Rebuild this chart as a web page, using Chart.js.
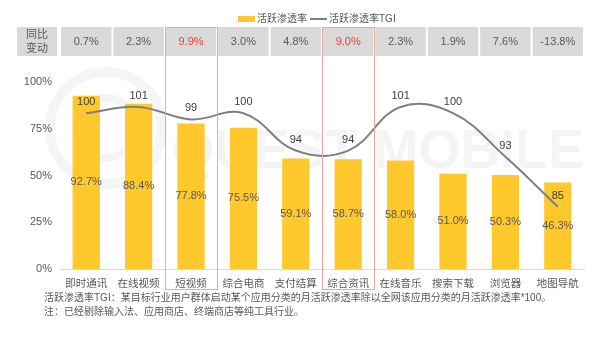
<!DOCTYPE html>
<html>
<head>
<meta charset="utf-8">
<script src="https://cdn.jsdelivr.net/npm/chart.js@4/dist/chart.umd.min.js"></script>
<style>
    html, body { margin: 0; padding: 0; background: #fff; }
    #wrap { width: 600px; height: 344px; position: relative; }
</style>
</head>
<body>
<div id="wrap"><canvas id="chart"></canvas></div>
<script>
// Dados do gráfico
const categories = ['即时通讯', '在线视频', '短视频', '综合电商', '支付结算', '综合资讯', '在线音乐', '搜索下载', '浏览器', '地图导航'];
const penetration = [92.7, 88.4, 77.8, 75.5, 59.1, 58.7, 58.0, 51.0, 50.3, 46.3];
const tgi = [100, 101, 99, 100, 94, 94, 101, 100, 93, 85];
const yoyChange = ['0.7%', '2.3%', '9.9%', '3.0%', '4.8%', '9.0%', '2.3%', '1.9%', '7.6%', '-13.8%'];
const highlighted = [2, 5];
const yTicks = [0, 25, 50, 75, 100];
const notes = [
    '活跃渗透率TGI：某目标行业用户群体启动某个应用分类的月活跃渗透率除以全网该应用分类的月活跃渗透率*100。',
    '注：已经剔除输入法、应用商店、终端商店等纯工具行业。'
];

const FONT = "'Liberation Sans', 'Noto Sans CJK SC', sans-serif";
const BAR_COLOR = '#FFC82C';
const LINE_COLOR = '#7F7F7F';
const TEXT_COLOR = '#595959';

// Plugin para marca d'água, rótulos, tabela, legenda e notas
const decorations = {
    id: 'decorations',
    beforeDatasetsDraw(chart) {
        const ctx = chart.ctx;
        ctx.save();
        // marca d'água bem clara
        ctx.strokeStyle = 'rgba(0, 0, 0, 0.04)';
        ctx.lineWidth = 10;
        ctx.beginPath();
        ctx.arc(106, 128, 56, 0, Math.PI * 2);
        ctx.stroke();
        ctx.lineWidth = 8;
        ctx.beginPath();
        ctx.arc(106, 128, 30, 0, Math.PI * 2);
        ctx.stroke();
        ctx.fillStyle = 'rgba(0, 0, 0, 0.045)';
        ctx.font = 'bold 56px ' + FONT;
        ctx.textAlign = 'left';
        ctx.textBaseline = 'alphabetic';
        ctx.fillText('QUEST MOBILE', 172, 168, 412);
        ctx.restore();
    },
    afterDatasetsDraw(chart) {
        const ctx = chart.ctx;
        ctx.save();
        ctx.font = '11px ' + FONT;
        ctx.textAlign = 'center';
        ctx.textBaseline = 'middle';
        ctx.fillStyle = TEXT_COLOR;
        chart.getDatasetMeta(1).data.forEach((bar, i) => {
            const mid = (bar.y + bar.base) / 2;
            ctx.fillText(penetration[i].toFixed(1) + '%', bar.x, mid);
        });
        ctx.fillStyle = '#404040';
        chart.getDatasetMeta(0).data.forEach((pt, i) => {
            ctx.fillText(String(tgi[i]), pt.x, pt.y - 11);
        });
        ctx.restore();
    },
    afterDraw(chart) {
        const ctx = chart.ctx;
        const x = chart.scales.x;
        const half = (x.getPixelForValue(1) - x.getPixelForValue(0)) / 2;
        ctx.save();

        // legenda
        ctx.font = '10px ' + FONT;
        ctx.textBaseline = 'middle';
        ctx.textAlign = 'left';
        ctx.fillStyle = BAR_COLOR;
        ctx.fillRect(238, 16, 17, 6);
        ctx.fillStyle = TEXT_COLOR;
        ctx.fillText('活跃渗透率', 257, 19);
        ctx.strokeStyle = LINE_COLOR;
        ctx.lineWidth = 2;
        ctx.beginPath();
        ctx.moveTo(310, 19);
        ctx.lineTo(327, 19);
        ctx.stroke();
        ctx.fillText('活跃渗透率TGI', 329, 19);

        // tabela de variação anual
        const top = 27, bottom = 56;
        ctx.fillStyle = '#D9D9D9';
        ctx.fillRect(17, top, 40, bottom - top);
        categories.forEach((c, i) => {
            const cx = x.getPixelForValue(i);
            ctx.fillStyle = '#D9D9D9';
            ctx.fillRect(cx - half + 1, top, half * 2 - 2, bottom - top);
        });
        ctx.textAlign = 'center';
        ctx.font = '11px ' + FONT;
        ctx.fillStyle = TEXT_COLOR;
        ctx.fillText('同比', 37, 35);
        ctx.fillText('变动', 37, 49);
        yoyChange.forEach((v, i) => {
            ctx.fillStyle = highlighted.includes(i) ? '#F03C3C' : TEXT_COLOR;
            ctx.fillText(v, x.getPixelForValue(i), 42);
        });

        // caixas vermelhas
        ctx.strokeStyle = '#F4A3A3';
        ctx.lineWidth = 1;
        highlighted.forEach(i => {
            const cx = x.getPixelForValue(i);
            ctx.strokeRect(Math.round(cx - half) + 0.5, top + 0.5, Math.round(half * 2), 262);
        });

        // notas
        ctx.textAlign = 'left';
        ctx.font = '10px ' + FONT;
        ctx.fillStyle = TEXT_COLOR;
        ctx.fillText(notes[0], 44, 298);
        ctx.fillText(notes[1], 44, 312);
        ctx.restore();
    }
};

const chartConfig = {
    data: {
        labels: categories,
        datasets: [{
            type: 'line',
            label: '活跃渗透率TGI',
            data: tgi,
            yAxisID: 'y1',
            borderColor: LINE_COLOR,
            borderWidth: 2,
            tension: 0.4,
            pointRadius: 0,
            fill: false,
            order: 0
        }, {
            type: 'bar',
            label: '活跃渗透率',
            data: penetration,
            yAxisID: 'y',
            backgroundColor: BAR_COLOR,
            barPercentage: 0.52,
            categoryPercentage: 1,
            order: 1
        }]
    },
    options: {
        responsive: true,
        maintainAspectRatio: false,
        animation: false,
        layout: {
            padding: { left: 0, right: 16, top: 82, bottom: 45 }
        },
        scales: {
            x: {
                grid: { display: false, drawTicks: false },
                border: { display: true, color: '#D9D9D9', width: 1 },
                ticks: {
                    color: TEXT_COLOR,
                    font: { family: FONT, size: 10.5 },
                    padding: 9,
                    maxRotation: 0
                },
                afterFit(scale) { scale.height = 30; }
            },
            y: {
                min: 0,
                max: 100,
                afterBuildTicks(scale) {
                    scale.ticks = yTicks.map(v => ({ value: v }));
                },
                grid: { display: false, drawTicks: false },
                border: { display: false },
                ticks: {
                    color: TEXT_COLOR,
                    font: { family: FONT, size: 11 },
                    padding: 8,
                    callback: v => v + '%'
                },
                afterFit(scale) { scale.width = 60; }
            },
            y1: {
                display: false,
                min: 75,
                max: 105
            }
        },
        plugins: {
            legend: { display: false },
            tooltip: { enabled: false }
        }
    },
    plugins: [decorations]
};

new Chart(document.getElementById('chart'), chartConfig);
</script>
</body>
</html>
